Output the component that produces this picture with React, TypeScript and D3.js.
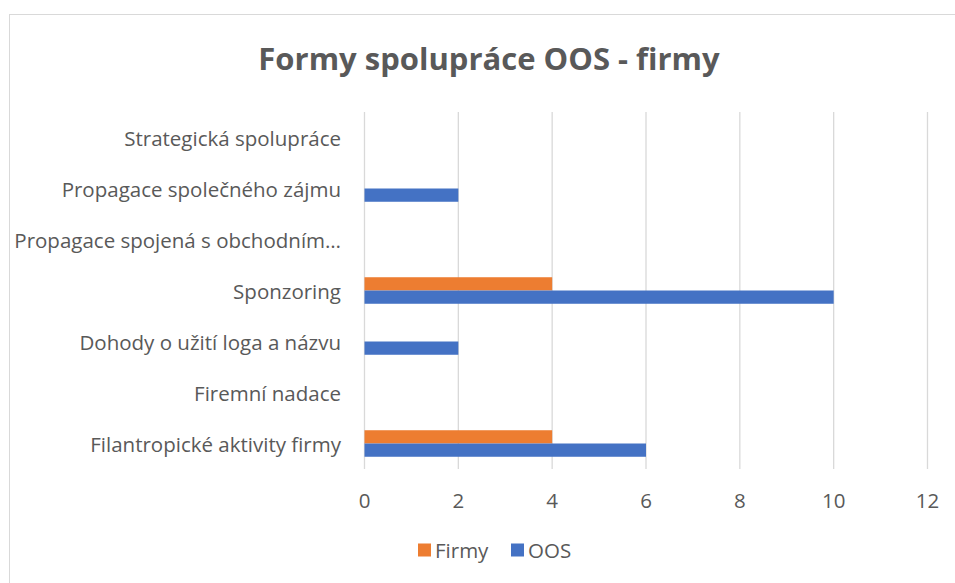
import React, { useEffect, useRef } from 'react'
import * as d3 from 'd3'

const categories = [
  'Strategická spolupráce',
  'Propagace společného zájmu',
  'Propagace spojená s obchodním…',
  'Sponzoring',
  'Dohody o užití loga a názvu',
  'Firemní nadace',
  'Filantropické aktivity firmy',
]
const seriesNames = ['Firmy', 'OOS']
const firmy = [0, 0, 0, 4, 0, 0, 4]
const oos = [0, 2, 0, 10, 2, 0, 6]
const xTicks = [0, 2, 4, 6, 8, 10, 12]

const colors = { Firmy: '#ed7d31', OOS: '#4472c4' }
const font = '"Open Sans", "Noto Sans", sans-serif'
const W = 955, H = 583

export default function App() {
  const ref = useRef(null)

  useEffect(() => {
    document.body.style.margin = '0'
    const svg = d3.select(ref.current)
    svg.selectAll('*').remove()

    svg.append('rect')
      .attr('x', 9.5).attr('y', 14.5)
      .attr('width', W).attr('height', H)
      .attr('fill', '#fff').attr('stroke', '#d9d9d9')

    svg.append('text')
      .attr('x', 489).attr('y', 70)
      .attr('text-anchor', 'middle')
      .style('font-family', font).style('font-size', '31px').style('font-weight', 'bold')
      .attr('fill', '#595959')
      .text('Formy spolupráce OOS - firmy')

    const x = d3.scaleLinear().domain([0, 12]).range([364.5, 927.5])
    const y = d3.scaleBand().domain(categories).range([112, 469])
      .paddingInner(0.48).paddingOuter(0.24)
    const sub = d3.scaleBand().domain(seriesNames).range([0, y.bandwidth()])

    // gridlines
    svg.append('g').selectAll('line').data(xTicks).join('line')
      .attr('x1', d => x(d)).attr('x2', d => x(d))
      .attr('y1', 112).attr('y2', 469)
      .attr('stroke', '#d9d9d9').attr('stroke-width', 1.3)

    const data = categories.map((c, i) => ({ c, Firmy: firmy[i], OOS: oos[i] }))

    const groups = svg.append('g').selectAll('g').data(data).join('g')
      .attr('transform', d => `translate(0,${y(d.c)})`)
    groups.selectAll('rect')
      .data(d => seriesNames.map(s => ({ s, v: d[s] })).filter(e => e.v > 0))
      .join('rect')
      .attr('x', x(0))
      .attr('y', d => sub(d.s))
      .attr('width', d => x(d.v) - x(0))
      .attr('height', sub.bandwidth())
      .attr('fill', d => colors[d.s])

    // category labels
    svg.append('g').selectAll('text').data(categories).join('text')
      .attr('x', 341)
      .attr('y', d => y(d) + y.bandwidth() / 2)
      .attr('dy', '0.42em')
      .attr('text-anchor', 'end')
      .style('font-family', font).style('font-size', '20.5px')
      .attr('fill', '#595959')
      .text(d => d)

    // x tick labels
    svg.append('g').selectAll('text').data(xTicks).join('text')
      .attr('x', d => x(d))
      .attr('y', 500)
      .attr('dy', '0.38em')
      .attr('text-anchor', 'middle')
      .style('font-family', font).style('font-size', '20.5px')
      .attr('fill', '#595959')
      .text(d => d)

    // legend
    const lx = d3.scaleOrdinal().domain(seriesNames).range([418, 511])
    const leg = svg.append('g').selectAll('g').data(seriesNames).join('g')
      .attr('transform', d => `translate(${lx(d)},550)`)
    leg.append('rect')
      .attr('x', 0).attr('y', -6.5).attr('width', 13).attr('height', 13)
      .attr('fill', d => colors[d])
    leg.append('text')
      .attr('x', 17).attr('y', 0).attr('dy', '0.38em')
      .style('font-family', font).style('font-size', '20.5px')
      .attr('fill', '#595959')
      .text(d => d)
  }, [])

  return <svg ref={ref} width={W} height={H} style={{ display: 'block' }} />
}
